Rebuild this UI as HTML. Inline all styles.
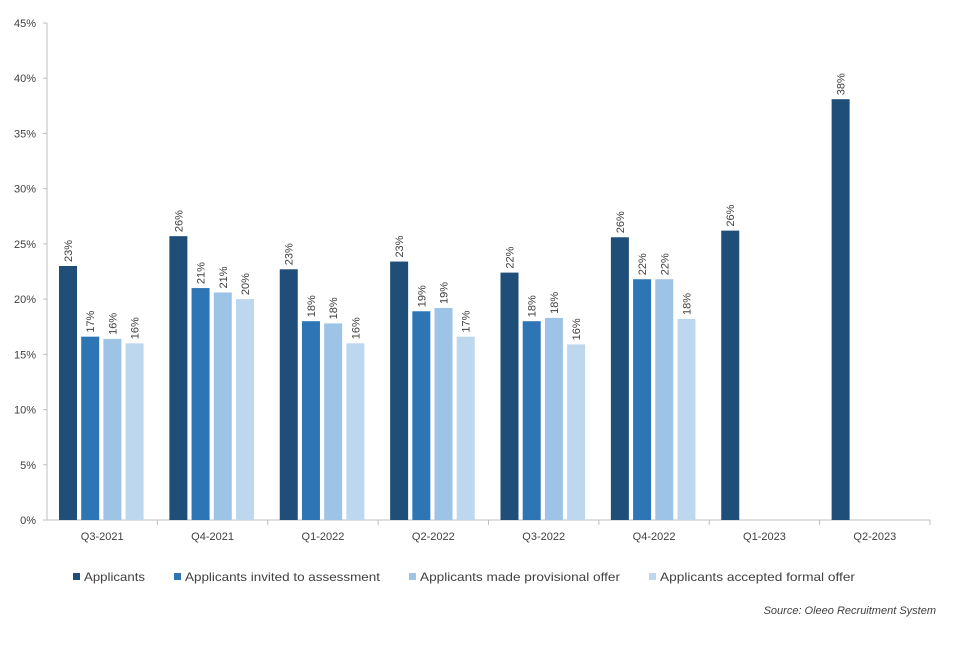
<!DOCTYPE html>
<html><head><meta charset="utf-8"><style>
body{margin:0;background:#fff;font-family:"Liberation Sans",sans-serif;}
svg text{font-family:"Liberation Sans",sans-serif;fill:#404040;}
</style></head><body>
<svg id="chart" width="960" height="640" viewBox="0 0 960 640" xmlns="http://www.w3.org/2000/svg"></svg>
<script>
const categories=["Q3-2021","Q4-2021","Q1-2022","Q2-2022","Q3-2022","Q4-2022","Q1-2023","Q2-2023"];
const seriesNames=["Applicants","Applicants invited to assessment","Applicants made provisional offer","Applicants accepted formal offer"];
const applicants=[23.0,25.7,22.7,23.4,22.4,25.6,26.2,38.1];
const invited=[16.6,21.0,18.0,18.9,18.0,21.8,null,null];
const provisional=[16.4,20.6,17.8,19.2,18.3,21.8,null,null];
const accepted=[16.0,20.0,16.0,16.6,15.9,18.2,null,null];
const yTicks=[0,5,10,15,20,25,30,35,40,45];
const colors=["#1f4e79","#2e75b6","#9dc3e6","#bdd7ee"];
const series=[applicants,invited,provisional,accepted];
const NS="http://www.w3.org/2000/svg";
const svg=document.getElementById('chart');
const x0=47,x1=930,y0=520,y1=23,yMax=45;
const y=v=>y0-(v/yMax)*(y0-y1);
const gw=(x1-x0)/categories.length;
const bw=18,gap=4.2;
function mk(t,a){const e=document.createElementNS(NS,t);for(const k in a)e.setAttribute(k,a[k]);svg.appendChild(e);return e;}
yTicks.forEach(t=>{
 const l=mk('text',{x:36,y:y(t)+4,'text-anchor':'end','font-size':11});l.textContent=t+'%';
 
 
 const tk=mk('line',{x1:x0-4,x2:x0,y1:y(t),y2:y(t),stroke:'#bfbfbf'});
 
 
});
const ya=mk('line',{x1:x0,x2:x0,y1:y1,y2:y0,stroke:'#bfbfbf'});


const xa=mk('line',{x1:x0,x2:x1,y1:y0,y2:y0,stroke:'#bfbfbf'});


categories.forEach((c,i)=>{
 const gx=x0+i*gw;
 const tk=mk('line',{x1:gx+gw,x2:gx+gw,y1:y0,y2:y0+5,stroke:'#bfbfbf'});
 
 
 const lab=mk('text',{x:gx+gw/2,y:540,'text-anchor':'middle','font-size':11});lab.textContent=c;
 
 
 const start=gx+12;
 series.forEach((s,j)=>{
  const v=s[i]; if(v==null)return;
  const bx=start+j*(bw+gap);
  const r=mk('rect',{x:bx,y:y(v),width:bw,height:y0-y(v),fill:colors[j]});
  
  
  const cx=bx+bw/2+4,cy=y(v)-4;
  const t=mk('text',{x:cx,y:cy,'font-size':11,transform:`rotate(-90 ${cx} ${cy})`});
  t.textContent=Math.round(v)+'%';
  
  
 });
});
const lx=[73,174,409,649],lw=[61,195,200,195],ly=577;
seriesNames.forEach((n,j)=>{
 const g=mk('g',{});
 
 
 const r=document.createElementNS(NS,'rect');r.setAttribute('x',lx[j]);r.setAttribute('y',ly-4);r.setAttribute('width',7);r.setAttribute('height',7);r.setAttribute('fill',colors[j]);g.appendChild(r);
 const t=document.createElementNS(NS,'text');t.setAttribute('x',lx[j]+11);t.setAttribute('y',ly+4);t.setAttribute('font-size',12);t.setAttribute('textLength',lw[j]);t.setAttribute('lengthAdjust','spacingAndGlyphs');t.textContent=n;g.appendChild(t);
});
const s=mk('text',{x:936,y:614,'text-anchor':'end','font-size':11,'font-style':'italic','fill':'#000'});
s.textContent='Source:  Oleeo Recruitment  System';


</script>
</body></html>
